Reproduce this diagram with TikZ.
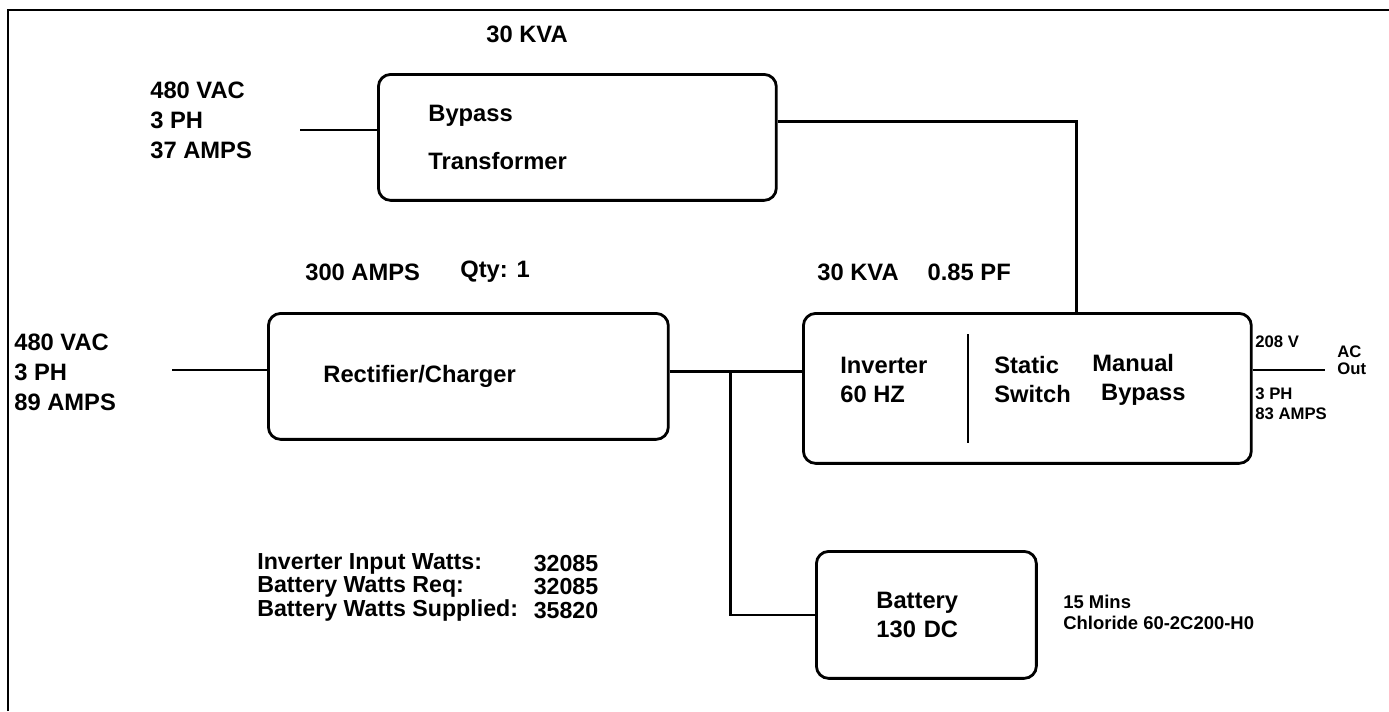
\documentclass[tikz,border=0pt]{standalone}
\usepackage{fontspec}
\setmainfont{Liberation Sans}
\usetikzlibrary{positioning,calc}

\newcommand{\lblfont}{\fontsize{13.5}{17}\selectfont\bfseries}
\newcommand{\smallfont}{\fontsize{9.5}{11.5}\selectfont\bfseries}

\begin{document}
\begin{tikzpicture}[
  x=0.02cm, y=-0.02cm,
  box/.style={draw, line width=1.6pt, rounded corners=7pt, anchor=north west,
    font=\lblfont, align=left},
  wire/.style={line width=1.6pt},
  txt/.style={font=\lblfont, align=left, inner sep=0pt, anchor=west},
  small/.style={font=\smallfont, align=left, inner sep=0pt, anchor=west}
]
\useasboundingbox (0,0) rectangle (1389,711);

% Frame
\draw[line width=1.2pt] (8,711) -- (8,10) -- (1389,10);

% Boxes
\node[box, minimum width=7.96cm, minimum height=2.52cm, text width=5.96cm,
  inner xsep=1cm] (bypass) at (377,73) {Bypass\\[10pt]Transformer};
\node[box, minimum width=8cm, minimum height=2.52cm, text width=5.8cm,
  inner xsep=1.1cm] (rect) at (267,312) {Rectifier/Charger};
\node[box, minimum width=8.96cm, minimum height=3cm] (inv) at (802,312) {};
\node[box, minimum width=4.4cm, minimum height=2.54cm, text width=2cm,
  inner xsep=1.2cm, font=\fontsize{13.5}{16.5}\selectfont\bfseries] (bat) at (815,550) {Battery\\130 DC};

% Inverter contents
\node[txt, font=\fontsize{13.5}{16.5}\selectfont\bfseries] (invtxt) at (840,380) {Inverter\\60 HZ};
\node[txt, font=\fontsize{13.5}{16.5}\selectfont\bfseries] (sstxt) at (994,380) {Static\\Switch};
\node[txt, font=\fontsize{13.5}{16.5}\selectfont\bfseries] (mbtxt) at (1092,380) {Manual\\\hspace{5pt}Bypass};
\draw[line width=1.2pt] (968,334) -- (968,443);

% Labels
\node[txt] (kvatop) at (486,34) {30 KVA};
\node[txt] (in1) at (150,120) {480 VAC\\3 PH\\37 AMPS};
\node[txt] (in2) at (14,372) {480 VAC\\3 PH\\89 AMPS};
\node[txt] (amps) at (305,272) {300 AMPS};
\node[txt] (qty) at (460,272) {Qty: 1};
\node[txt] (kvapf) at (817,272) {30 KVA\hspace{0.45cm} 0.85 PF};
\node[small] (volt) at (1255,342) {208 V};
\node[small] (ph) at (1255,404) {3 PH\\83 AMPS};
\node[small, font=\fontsize{9.5}{9.5}\selectfont\bfseries] (acout) at (1337,360) {AC\\Out};
\node[txt, font=\fontsize{10.5}{12}\selectfont\bfseries] (batinfo) at (1063,612) {15 Mins\\Chloride 60-2C200-H0};
\node[txt, font=\fontsize{13.2}{13.4}\selectfont\bfseries] (wlbl) at (257,587)
  {Inverter Input Watts:\\Battery Watts Req:\\Battery Watts Supplied:};
\node[txt, font=\fontsize{13.2}{13.4}\selectfont\bfseries, right=0.3cm of wlbl] (wval)
  {32085\\32085\\35820};

% Connectors
\coordinate (topsrc) at (300,130);
\coordinate (lowsrc) at (172,370);
\coordinate (acend) at (1325,370);
\draw[wire] (topsrc) -- (topsrc -| bypass.west);
\draw[wire] ([yshift=0.32cm]bypass.east) -| ([xshift=0.98cm]inv.north);
\draw[wire] (lowsrc) -- (lowsrc -| rect.west);
\draw[wire] ([yshift=0.1cm]rect.east) coordinate (rc) -- (rc -| inv.west);
\coordinate (jn) at ($(rc)+(61,0)$);
\draw[wire] (jn) |- (bat.west);
\draw[wire] (acend -| inv.east) -- (acend);

\end{tikzpicture}
\end{document}
